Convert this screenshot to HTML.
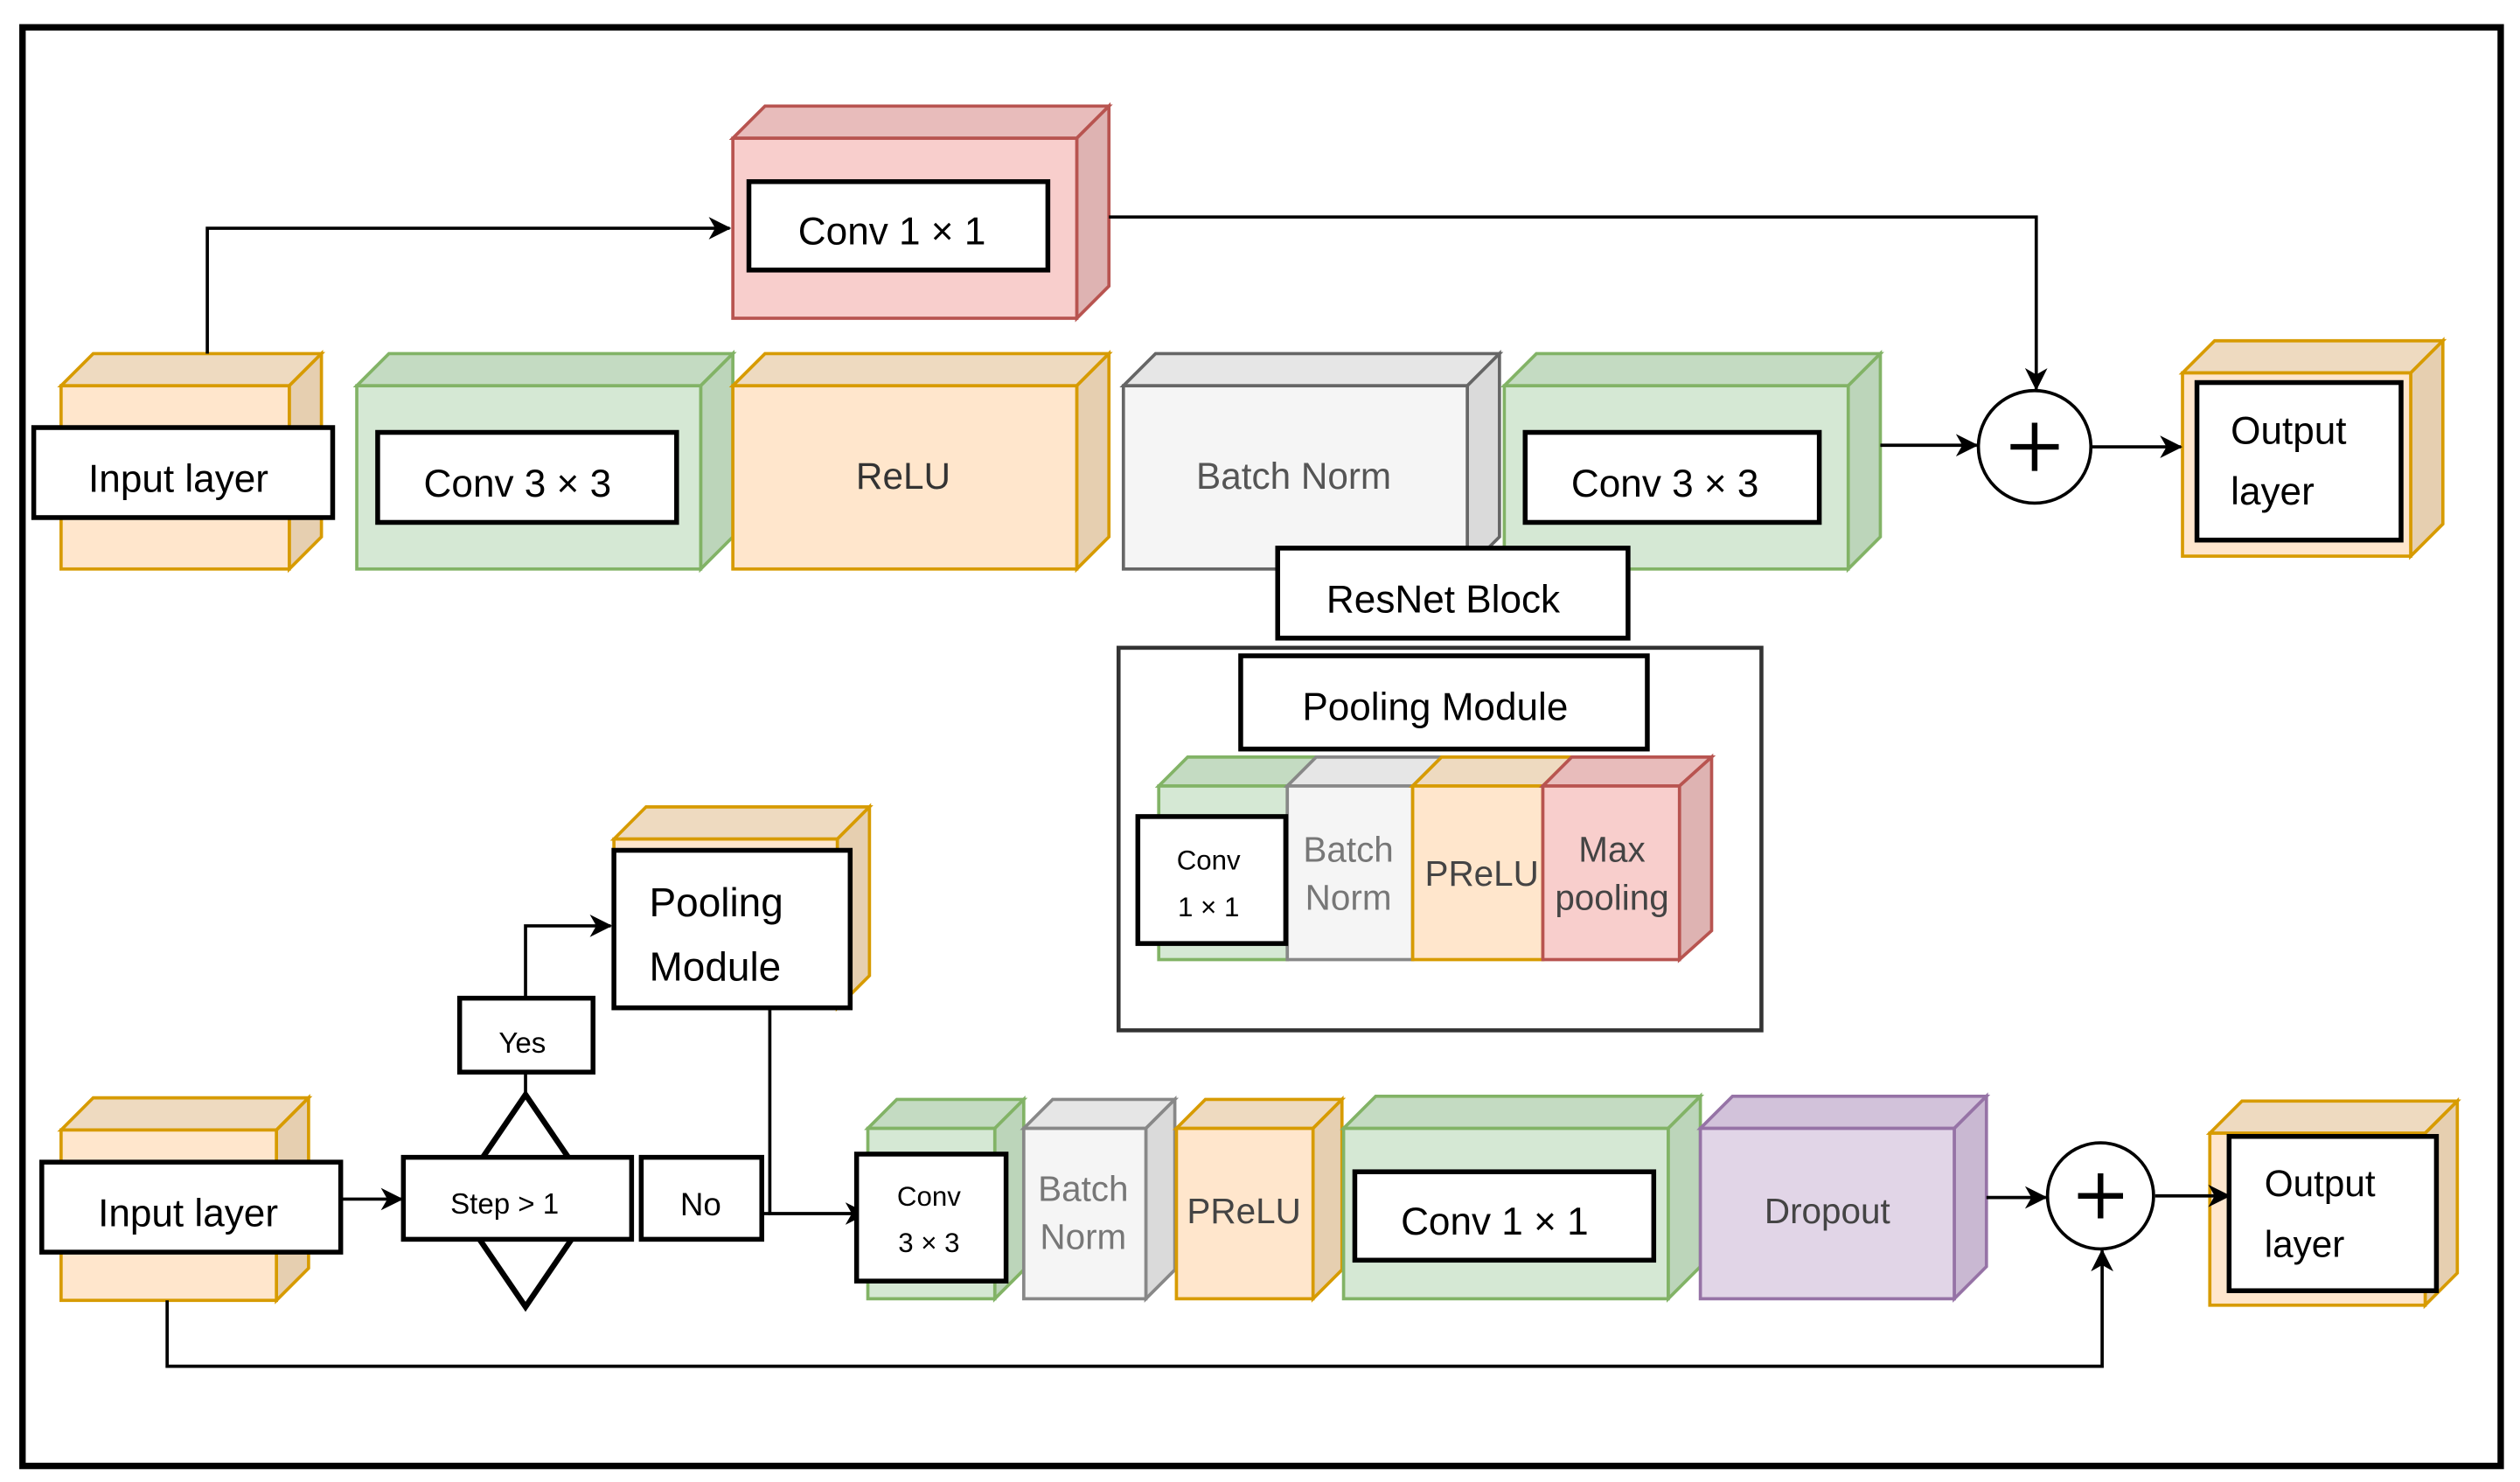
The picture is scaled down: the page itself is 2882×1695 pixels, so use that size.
<!DOCTYPE html>
<html><head><meta charset="utf-8"><style>
html,body{margin:0;padding:0;background:#fff;}
svg{display:block;}
.lbl{font-family:"Liberation Sans",sans-serif;fill:#000;}
.in{font-family:"Liberation Sans",sans-serif;}
</style></head><body>
<svg width="2882" height="1695" viewBox="0 0 1568 922" preserveAspectRatio="none" xmlns="http://www.w3.org/2000/svg">
<defs>
<marker id="ar" markerWidth="14" markerHeight="14" refX="13" refY="7" orient="auto" markerUnits="userSpaceOnUse">
<path d="M0,0 L14,7 L0,14 L4,7 z" fill="#000"/></marker>
</defs>
<rect x="0" y="0" width="1568" height="922" fill="#fff"/>
<rect x="14" y="17" width="1542" height="895" fill="none" stroke="#000" stroke-width="4"/>

<g stroke-width="2">
<polygon points="38,240 58,220 200,220 180,240" fill="#eedac0" stroke="#d79b00"/>
<polygon points="180,240 200,220 200,334 180,354" fill="#e6cfb0" stroke="#d79b00"/>
<rect x="38" y="240" width="142" height="114" fill="#ffe6cc" stroke="#d79b00"/>
<polygon points="222,240 242,220 456,220 436,240" fill="#c4dbc2" stroke="#82b366"/>
<polygon points="436,240 456,220 456,334 436,354" fill="#bcd5ba" stroke="#82b366"/>
<rect x="222" y="240" width="214" height="114" fill="#d5e8d4" stroke="#82b366"/>
<polygon points="456,240 476,220 690,220 670,240" fill="#eedac0" stroke="#d79b00"/>
<polygon points="670,240 690,220 690,334 670,354" fill="#e6cfb0" stroke="#d79b00"/>
<rect x="456" y="240" width="214" height="114" fill="#ffe6cc" stroke="#d79b00"/>
<polygon points="699,240 719,220 933,220 913,240" fill="#e6e6e6" stroke="#666"/>
<polygon points="913,240 933,220 933,334 913,354" fill="#dadada" stroke="#666"/>
<rect x="699" y="240" width="214" height="114" fill="#f5f5f5" stroke="#666"/>
<polygon points="936,240 956,220 1170,220 1150,240" fill="#c4dbc2" stroke="#82b366"/>
<polygon points="1150,240 1170,220 1170,334 1150,354" fill="#bcd5ba" stroke="#82b366"/>
<rect x="936" y="240" width="214" height="114" fill="#d5e8d4" stroke="#82b366"/>
<polygon points="456,86 476,66 690,66 670,86" fill="#e8bcbb" stroke="#b85450"/>
<polygon points="670,86 690,66 690,178 670,198" fill="#deb3b2" stroke="#b85450"/>
<rect x="456" y="86" width="214" height="112" fill="#f8cecc" stroke="#b85450"/>
<polygon points="1358,232 1378,212 1520,212 1500,232" fill="#eedac0" stroke="#d79b00"/>
<polygon points="1500,232 1520,212 1520,326 1500,346" fill="#e6cfb0" stroke="#d79b00"/>
<rect x="1358" y="232" width="142" height="114" fill="#ffe6cc" stroke="#d79b00"/>
</g>

<g fill="none" stroke="#000" stroke-width="2">
<polyline points="129,220 129,142 454,142" marker-end="url(#ar)"/>
<polyline points="690,135 1267,135 1267,242" marker-end="url(#ar)"/>
<line x1="1170" y1="277" x2="1230" y2="277" marker-end="url(#ar)"/>
<line x1="1301" y1="278" x2="1357" y2="278" marker-end="url(#ar)"/>
<circle cx="1266" cy="278" r="35" fill="#fff"/>
<line x1="1251" y1="278" x2="1281" y2="278" stroke-width="3.5"/>
<line x1="1266" y1="263" x2="1266" y2="293" stroke-width="3.5"/>
</g>

<g fill="#fff" stroke="#000" stroke-width="3">
<rect x="21" y="266" width="186" height="56"/>
<rect x="235" y="269" width="186" height="56"/>
<rect x="949" y="269" width="183" height="56"/>
<rect x="466" y="113" width="186" height="55"/>
<rect x="1367" y="238" width="127" height="98"/>
<rect x="795" y="341" width="218" height="56"/>
</g>
<g class="lbl" font-size="24" text-anchor="middle">
<text x="111" y="306">Input layer</text>
<text x="322" y="309">Conv 3 × 3</text>
<text x="1036" y="309">Conv 3 × 3</text>
<text x="555" y="152">Conv 1 × 1</text>
<text x="898" y="381">ResNet Block</text>
<text x="1388" y="276" text-anchor="start">Output</text>
<text x="1388" y="314" text-anchor="start">layer</text>
</g>
<g class="in" font-size="23" text-anchor="middle" fill="#333">
<text x="562" y="304">ReLU</text>
<text x="805" y="304" fill="#555">Batch Norm</text>
</g>

<rect x="696" y="403" width="400" height="238" fill="none" stroke="#333" stroke-width="2.5"/>
<g stroke-width="2">
<polygon points="721,489 739,471 819,471 801,489" fill="#c4dbc2" stroke="#82b366"/>
<rect x="721" y="489" width="80" height="108" fill="#d5e8d4" stroke="#82b366"/>
<polygon points="801,489 819,471 897,471 879,489" fill="#e6e6e6" stroke="#888"/>
<rect x="801" y="489" width="78" height="108" fill="#f5f5f5" stroke="#888"/>
<polygon points="879,489 897,471 978,471 960,489" fill="#eedac0" stroke="#d79b00"/>
<rect x="879" y="489" width="81" height="108" fill="#ffe6cc" stroke="#d79b00"/>
<polygon points="960,489 978,471 1065,471 1045,489" fill="#e8bcbb" stroke="#b85450"/>
<polygon points="1045,489 1065,471 1065,579 1045,597" fill="#deb3b2" stroke="#b85450"/>
<rect x="960" y="489" width="85" height="108" fill="#f8cecc" stroke="#b85450"/>
</g>
<g fill="#fff" stroke="#000" stroke-width="3">
<rect x="772" y="408" width="253" height="58"/>
<rect x="708" y="508" width="92" height="79"/>
</g>
<g class="lbl" font-size="24" text-anchor="middle"><text x="893" y="448">Pooling Module</text></g>
<g class="lbl" font-size="17" text-anchor="middle">
<text x="752" y="541">Conv</text><text x="752" y="570">1 × 1</text>
</g>
<g class="in" font-size="22" text-anchor="middle" fill="#444">
<text x="839" y="536" fill="#777">Batch</text><text x="839" y="566" fill="#777">Norm</text>
<text x="922" y="551">PReLU</text>
<text x="1003" y="536">Max</text><text x="1003" y="566">pooling</text>
</g>

<g stroke-width="2">
<polygon points="38,703 58,683 192,683 172,703" fill="#eedac0" stroke="#d79b00"/>
<polygon points="172,703 192,683 192,789 172,809" fill="#e6cfb0" stroke="#d79b00"/>
<rect x="38" y="703" width="134" height="106" fill="#ffe6cc" stroke="#d79b00"/>
<polygon points="382,522 402,502 541,502 521,522" fill="#eedac0" stroke="#d79b00"/>
<polygon points="521,522 541,502 541,607 521,627" fill="#e6cfb0" stroke="#d79b00"/>
<rect x="382" y="522" width="139" height="105" fill="#ffe6cc" stroke="#d79b00"/>
<polygon points="540,702 558,684 637,684 619,702" fill="#c4dbc2" stroke="#82b366"/>
<polygon points="619,702 637,684 637,790 619,808" fill="#bcd5ba" stroke="#82b366"/>
<rect x="540" y="702" width="79" height="106" fill="#d5e8d4" stroke="#82b366"/>
<polygon points="637,702 655,684 731,684 713,702" fill="#e6e6e6" stroke="#888"/>
<polygon points="713,702 731,684 731,790 713,808" fill="#dadada" stroke="#888"/>
<rect x="637" y="702" width="76" height="106" fill="#f5f5f5" stroke="#888"/>
<polygon points="732,702 750,684 835,684 817,702" fill="#eedac0" stroke="#d79b00"/>
<polygon points="817,702 835,684 835,790 817,808" fill="#e6cfb0" stroke="#d79b00"/>
<rect x="732" y="702" width="85" height="106" fill="#ffe6cc" stroke="#d79b00"/>
<polygon points="836,702 856,682 1058,682 1038,702" fill="#c4dbc2" stroke="#82b366"/>
<polygon points="1038,702 1058,682 1058,788 1038,808" fill="#bcd5ba" stroke="#82b366"/>
<rect x="836" y="702" width="202" height="106" fill="#d5e8d4" stroke="#82b366"/>
<polygon points="1058,702 1078,682 1236,682 1216,702" fill="#d2c2da" stroke="#9673a6"/>
<polygon points="1216,702 1236,682 1236,788 1216,808" fill="#c9b8d2" stroke="#9673a6"/>
<rect x="1058" y="702" width="158" height="106" fill="#e1d5e7" stroke="#9673a6"/>
<polygon points="1375,705 1395,685 1529,685 1509,705" fill="#eedac0" stroke="#d79b00"/>
<polygon points="1509,705 1529,685 1529,792 1509,812" fill="#e6cfb0" stroke="#d79b00"/>
<rect x="1375" y="705" width="134" height="107" fill="#ffe6cc" stroke="#d79b00"/>
</g>

<g fill="none" stroke="#000" stroke-width="2">
<line x1="212" y1="746" x2="250" y2="746" marker-end="url(#ar)"/>
<polyline points="327,621 327,576 380,576" marker-end="url(#ar)"/>
<line x1="327" y1="667" x2="327" y2="681"/>
<polyline points="479,627 479,755 539,755" marker-end="url(#ar)"/>
<line x1="474" y1="755" x2="479" y2="755"/>
<line x1="1236" y1="745" x2="1273" y2="745" marker-end="url(#ar)"/>
<line x1="1341" y1="744" x2="1387" y2="744" marker-end="url(#ar)"/>
<polyline points="104,809 104,850 1308,850 1308,778" marker-end="url(#ar)"/>
<polygon points="327,681 372,747 327,813 282,747" stroke-width="3.5" fill="#fff"/>
<circle cx="1307" cy="744" r="33" fill="#fff"/>
<line x1="1293" y1="744" x2="1321" y2="744" stroke-width="3.5"/>
<line x1="1307" y1="730" x2="1307" y2="758" stroke-width="3.5"/>
</g>

<g fill="#fff" stroke="#000" stroke-width="3">
<rect x="26" y="723" width="186" height="56"/>
<rect x="251" y="720" width="142" height="51"/>
<rect x="399" y="720" width="75" height="51"/>
<rect x="286" y="621" width="83" height="46"/>
<rect x="382" y="529" width="147" height="98"/>
<rect x="533" y="718" width="93" height="79"/>
<rect x="843" y="729" width="186" height="55"/>
<rect x="1387" y="707" width="129" height="96"/>
</g>
<g class="lbl" text-anchor="middle">
<text x="117" y="763" font-size="24">Input layer</text>
<text x="314" y="755" font-size="18">Step &gt; 1</text>
<text x="436" y="756" font-size="20">No</text>
<text x="325" y="655" font-size="18">Yes</text>
<text x="404" y="570" font-size="25" text-anchor="start">Pooling</text>
<text x="404" y="610" font-size="25" text-anchor="start">Module</text>
<text x="578" y="750" font-size="17">Conv</text>
<text x="578" y="779" font-size="17">3 × 3</text>
<text x="930" y="768" font-size="24">Conv 1 × 1</text>
<text x="1409" y="744" font-size="23" text-anchor="start">Output</text>
<text x="1409" y="782" font-size="23" text-anchor="start">layer</text>
</g>
<g class="in" font-size="22" text-anchor="middle">
<text x="674" y="747" fill="#777">Batch</text><text x="674" y="777" fill="#777">Norm</text>
<text x="774" y="761" fill="#444">PReLU</text>
<text x="1137" y="761" fill="#444">Dropout</text>
</g>
</svg>
</body></html>
